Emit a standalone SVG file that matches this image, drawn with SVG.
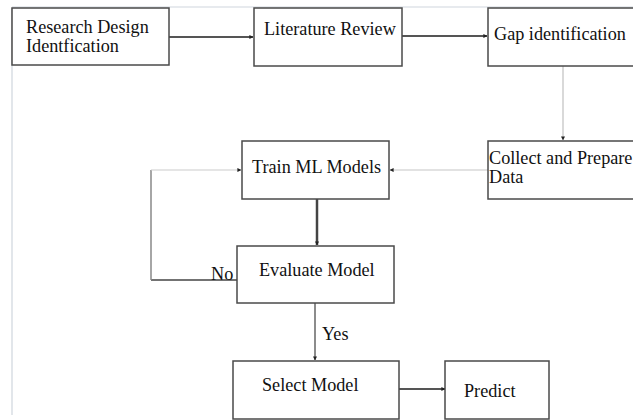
<svg xmlns="http://www.w3.org/2000/svg" width="633" height="420" viewBox="0 0 633 420">
<style>
.box{fill:#fff;stroke:#4a4a4a;stroke-width:1.5}
.t{font-family:"Liberation Serif","Times New Roman",serif;font-size:18.2px;fill:#111}
.frame{stroke:#cfd6dd;stroke-width:1.2;fill:none}
</style>
<defs>
<marker id="ah" viewBox="0 0 10 10" refX="9" refY="5" markerWidth="4" markerHeight="4" orient="auto" markerUnits="userSpaceOnUse">
<path d="M0,0 L10,5 L0,10 z" fill="#222"/>
</marker>
</defs>
<rect width="633" height="420" fill="#fff"/>
<g id="frame">
<line class="frame" x1="12" y1="7" x2="633" y2="7"/>
<line class="frame" x1="12" y1="8" x2="12" y2="415"/>
</g>
<g id="connectors" fill="none">
<line x1="169" y1="37" x2="253" y2="37" stroke="#555" stroke-width="2" marker-end="url(#ah)"/>
<line x1="402" y1="36" x2="487" y2="36" stroke="#555" stroke-width="2" marker-end="url(#ah)"/>
<line x1="563" y1="66" x2="563" y2="140" stroke="#ccc" stroke-width="1.5" marker-end="url(#ah)"/>
<line x1="488" y1="170" x2="390" y2="170" stroke="#d8d8d8" stroke-width="1.5" marker-end="url(#ah)"/>
<line x1="317" y1="199" x2="317" y2="245" stroke="#444" stroke-width="2.5" marker-end="url(#ah)"/>
<line x1="237" y1="280" x2="151" y2="280" stroke="#444" stroke-width="1.5"/>
<line x1="151" y1="280" x2="151" y2="170" stroke="#888" stroke-width="1.5"/>
<line x1="151" y1="170" x2="241" y2="170" stroke="#ccc" stroke-width="1.2" marker-end="url(#ah)"/>
<line x1="315" y1="303" x2="315" y2="360" stroke="#666" stroke-width="1.5" marker-end="url(#ah)"/>
<line x1="399" y1="389" x2="445" y2="389" stroke="#555" stroke-width="2" marker-end="url(#ah)"/>
</g>
<g id="research">
<rect class="box" x="12" y="8" width="157" height="57" stroke="#333"/>
<text class="t" x="26" y="33">Research Design</text>
<text class="t" x="26" y="52">Identfication</text>
</g>
<g id="literature">
<rect class="box" x="254" y="8" width="148" height="58" stroke="#777"/>
<text class="t" x="264" y="35">Literature Review</text>
</g>
<g id="gap">
<rect class="box" x="488" y="8" width="150" height="58"/>
<text class="t" x="494" y="40">Gap identification</text>
</g>
<g id="collect">
<rect class="box" x="488" y="141" width="150" height="58" stroke="#666"/>
<text class="t" x="489" y="164">Collect and Prepare</text>
<text class="t" x="489" y="183">Data</text>
</g>
<g id="train">
<rect class="box" x="242" y="141" width="147" height="58" stroke="#666"/>
<text class="t" x="252" y="173">Train ML Models</text>
</g>
<g id="evaluate">
<rect class="box" x="237" y="246" width="157" height="57" stroke="#777"/>
<text class="t" x="259" y="276">Evaluate Model</text>
<text class="t" x="211" y="280">No</text>
</g>
<g id="yes-label">
<text class="t" x="322" y="340">Yes</text>
</g>
<g id="select">
<rect class="box" x="233" y="361" width="166" height="58" stroke="#555"/>
<text class="t" x="262" y="391">Select Model</text>
</g>
<g id="predict">
<rect class="box" x="445" y="361" width="104" height="58" stroke="#666"/>
<text class="t" x="464" y="397">Predict</text>
</g>
</svg>
